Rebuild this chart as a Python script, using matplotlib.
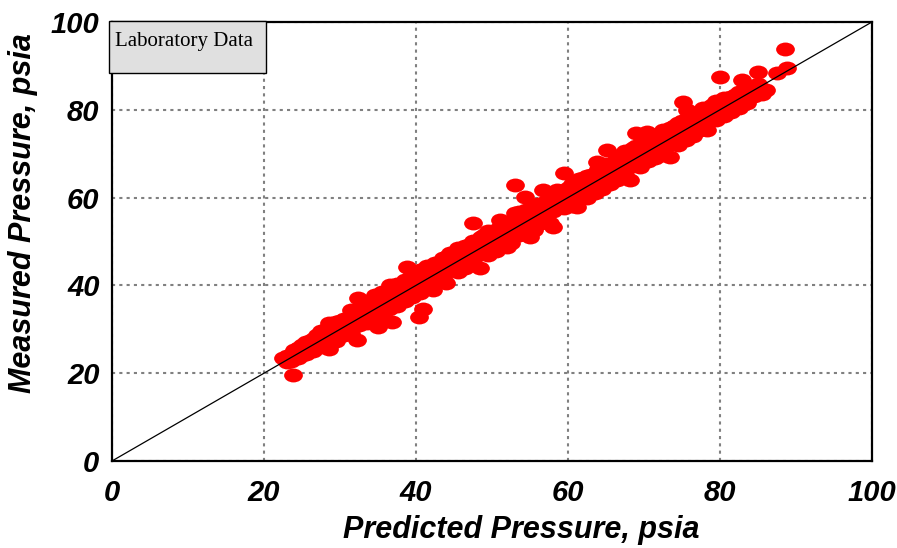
import numpy as np
import matplotlib
matplotlib.use('Agg')
from matplotlib import pyplot as plt
from matplotlib.path import Path
from matplotlib.patches import Rectangle
import matplotlib.transforms as mtrans

# values (psia)
predicted = [
    22.5, 23.5, 23.5, 23.8, 24.5, 24.5, 24.5, 25.5, 25.5, 25.5,
    26.5, 26.5, 26.5, 27.5, 27.5, 27.5, 28.5, 28.5, 28.5, 29.5,
    29.5, 29.5, 30.5, 30.5, 30.5, 31.5, 31.5, 31.5, 32.4, 32.5,
    32.5, 32.2, 33.5, 33.5, 33.5, 34.6, 34.5, 34.5, 35.5, 35.5,
    35.5, 35.0, 36.6, 36.5, 36.5, 36.8, 37.5, 37.5, 37.5, 38.8,
    38.5, 38.5, 38.5, 39.5, 39.5, 39.5, 40.5, 40.5, 40.5, 40.9,
    40.4, 41.5, 41.5, 41.5, 42.5, 42.5, 42.2, 43.5, 43.5, 43.5,
    44.5, 44.5, 44.0, 45.5, 45.5, 45.5, 46.5, 46.5, 46.5, 47.5,
    47.5, 47.5, 47.5, 48.5, 48.5, 48.4, 49.5, 49.5, 49.5, 50.5,
    51.0, 50.5, 50.5, 51.5, 51.5, 52.0, 52.5, 53.0, 52.5, 53.0,
    53.5, 53.5, 53.5, 54.3, 54.5, 54.5, 55.0, 55.5, 55.5, 55.5,
    56.7, 56.5, 56.5, 57.5, 57.5, 57.6, 58.5, 58.5, 58.0, 59.5,
    59.5, 59.5, 60.5, 60.5, 60.5, 61.5, 61.5, 61.2, 62.5, 62.5,
    62.5, 63.8, 63.5, 63.5, 64.5, 64.5, 64.5, 65.1, 65.5, 65.5,
    66.5, 66.5, 66.5, 67.5, 67.5, 67.5, 68.5, 68.5, 68.2, 69.0,
    69.5, 69.5, 70.4, 70.5, 70.5, 71.5, 71.5, 71.5, 72.5, 72.5,
    72.5, 73.4, 73.5, 73.4, 74.5, 74.5, 74.5, 75.1, 75.7, 75.5,
    75.5, 76.5, 76.5, 76.5, 77.8, 77.5, 77.4, 78.3, 78.5, 78.3,
    79.5, 79.5, 79.5, 80.0, 80.0, 80.5, 80.5, 80.5, 81.5, 81.5,
    81.5, 82.4, 82.5, 82.5, 82.9, 83.5, 83.5, 83.5, 84.5, 84.9,
    85.0, 85.0, 85.5, 86.0, 87.5, 88.6, 88.8,
]
measured = [
    23.4, 24.0, 22.8, 19.6, 25.8, 24.2, 23.4, 27.0, 25.4, 24.3,
    27.8, 26.6, 25.0, 29.6, 27.9, 26.0, 31.4, 28.3, 25.6, 31.6,
    29.8, 27.4, 32.4, 30.6, 28.6, 34.5, 31.2, 29.0, 37.2, 33.6,
    31.0, 27.5, 36.2, 34.0, 31.5, 37.8, 35.2, 32.8, 38.6, 35.8,
    33.0, 30.5, 40.0, 37.2, 34.6, 31.7, 40.4, 38.0, 35.4, 44.2,
    41.2, 38.6, 36.4, 42.5, 39.8, 37.4, 43.4, 40.8, 38.2, 34.6,
    32.8, 44.5, 41.6, 39.6, 45.0, 42.8, 39.0, 46.2, 43.6, 41.4,
    47.4, 44.8, 40.5, 48.5, 45.4, 43.0, 49.0, 46.8, 44.0, 54.2,
    50.2, 47.4, 45.0, 51.0, 48.4, 44.0, 52.4, 49.6, 47.0, 52.6,
    54.9, 50.8, 47.8, 54.4, 51.6, 48.7, 52.8, 56.5, 49.6, 62.9,
    56.8, 53.6, 51.4, 60.1, 57.2, 54.4, 51.0, 58.2, 55.6, 52.6,
    61.7, 57.0, 54.2, 59.6, 57.6, 54.2, 61.8, 58.4, 53.3, 65.6,
    60.6, 57.6, 63.0, 60.4, 58.0, 64.2, 61.6, 57.9, 65.0, 62.6,
    60.0, 68.1, 63.8, 61.0, 67.6, 64.4, 62.0, 70.8, 66.0, 63.2,
    69.4, 66.8, 64.0, 70.6, 67.4, 65.2, 71.2, 68.8, 64.0, 74.7,
    70.0, 67.0, 75.0, 70.6, 68.4, 74.0, 71.4, 69.0, 75.4, 72.6,
    69.8, 75.9, 73.4, 69.2, 77.0, 74.4, 72.0, 81.8, 80.0, 75.8,
    73.2, 79.0, 76.4, 74.0, 80.4, 77.2, 75.4, 80.4, 78.6, 75.4,
    82.0, 79.4, 77.6, 87.5, 79.3, 82.6, 80.6, 78.6, 83.0, 81.4,
    79.4, 82.2, 84.0, 80.4, 86.8, 84.6, 83.0, 81.6, 83.2, 84.0,
    88.6, 84.8, 83.6, 84.4, 88.4, 93.8, 89.5,
]
# denser core of the cloud
predicted_core = [
    23, 23, 24, 24, 25, 25, 26, 26, 27, 27, 28, 28, 29, 29, 30, 30,
    31, 31, 32, 32, 33, 33, 34, 34, 35, 35, 36, 36, 37, 37, 38, 38,
    39, 39, 40, 40, 41, 41, 42, 42, 43, 43, 44, 44, 45, 45, 46, 46,
    47, 47, 48, 48, 49, 49, 50, 50, 51, 51, 52, 52, 53, 53, 54, 54,
    55, 55, 56, 56, 57, 57, 58, 58, 59, 59, 60, 60, 61, 61, 62, 62,
    63, 63, 64, 64, 65, 65, 66, 66, 67, 67, 68, 68, 69, 69, 70, 70,
    71, 71, 72, 72, 73, 73, 74, 74, 75, 75, 76, 76, 77, 77, 78, 78,
    79, 79, 80, 80, 81, 81, 82, 82, 83, 83, 84, 84, 85, 85,
]
measured_core = [
    23.8, 22.6, 25.2, 23.6, 26.4, 24.2, 27.4, 25.2, 28.6, 26.2, 29.8, 27.2, 30.6, 28.0, 31.8, 29.0,
    32.6, 30.0, 34.2, 30.8, 35.0, 32.0, 36.4, 33.0, 37.0, 34.0, 38.2, 35.2, 39.0, 36.0, 40.2, 37.0,
    41.0, 38.0, 42.4, 39.0, 43.0, 40.0, 44.2, 41.0, 45.0, 42.0, 46.4, 43.0, 47.0, 44.0, 48.2, 45.0,
    49.2, 46.0, 50.0, 47.0, 51.4, 48.0, 52.0, 49.0, 53.2, 50.0, 54.0, 51.0, 55.4, 52.0, 56.0, 53.0,
    57.2, 54.0, 58.6, 55.0, 59.0, 56.0, 60.4, 57.0, 61.6, 58.0, 62.2, 59.0, 63.0, 60.0, 64.4, 61.0,
    65.2, 62.0, 66.4, 63.0, 67.6, 64.0, 68.2, 65.0, 69.4, 66.0, 70.2, 67.0, 71.8, 68.0, 72.6, 69.0,
    73.2, 70.0, 74.4, 71.0, 75.0, 72.0, 76.2, 73.0, 77.4, 74.0, 78.0, 75.0, 79.2, 76.0, 80.0, 77.0,
    81.2, 78.0, 81.8, 79.0, 82.6, 80.0, 83.4, 81.0, 84.2, 82.0, 85.0, 82.8, 85.8, 83.8,
]
ticks = [0, 20, 40, 60, 80, 100]

bold_it = dict(family='Liberation Sans', weight='bold', style='italic')

fig = plt.figure(figsize=(8.97, 5.48), dpi=100)
ax = fig.add_axes([0.1249, 0.1588, 0.8472, 0.8011])

# ellipse marker, wider than tall
ell = Path.unit_circle().transformed(mtrans.Affine2D().scale(1.0, 0.74))
ax.plot(predicted + predicted_core, measured + measured_core, linestyle='none',
        marker=ell, markersize=13.5, color='#ff0000', markeredgewidth=0, zorder=3)

ax.plot([0, 100], [0, 100], color='black', linewidth=0.9, zorder=4)

ax.set_xlim(0, 100)
ax.set_ylim(0, 100)
ax.set_xticks(ticks)
ax.set_yticks(ticks)
ax.grid(True, color='#808080', linestyle=(0, (1.5, 2.0)), linewidth=1.5, zorder=1)
ax.set_axisbelow(True)
ax.tick_params(length=0, pad=13, labelsize=21, axis='x')
ax.tick_params(length=0, pad=9, labelsize=21, axis='y')
for lab in ax.get_xticklabels() + ax.get_yticklabels():
    lab.set_fontfamily('Liberation Sans')
    lab.set_fontweight('bold')
    lab.set_fontstyle('italic')
for sp in ax.spines.values():
    sp.set_linewidth(1.6)

ax.set_xlabel('Predicted Pressure, psia', fontsize=22, **bold_it)
ax.set_ylabel('Measured Pressure, psia', fontsize=22, **bold_it)
ax.xaxis.set_label_coords(0.538, -0.122)
ax.yaxis.set_label_coords(-0.097, 0.565)

# legend-like label box
ax.add_patch(Rectangle((-0.004, 0.884), 0.2066, 0.118, transform=ax.transAxes,
                       facecolor='#e0e0e0', edgecolor='black', linewidth=1.0,
                       clip_on=False, zorder=6))
ax.text(0.004, 0.978, 'Laboratory Data', transform=ax.transAxes, ha='left', va='top',
        family='Liberation Serif', fontsize=15, zorder=7)

fig.savefig('out.png', dpi=100)
